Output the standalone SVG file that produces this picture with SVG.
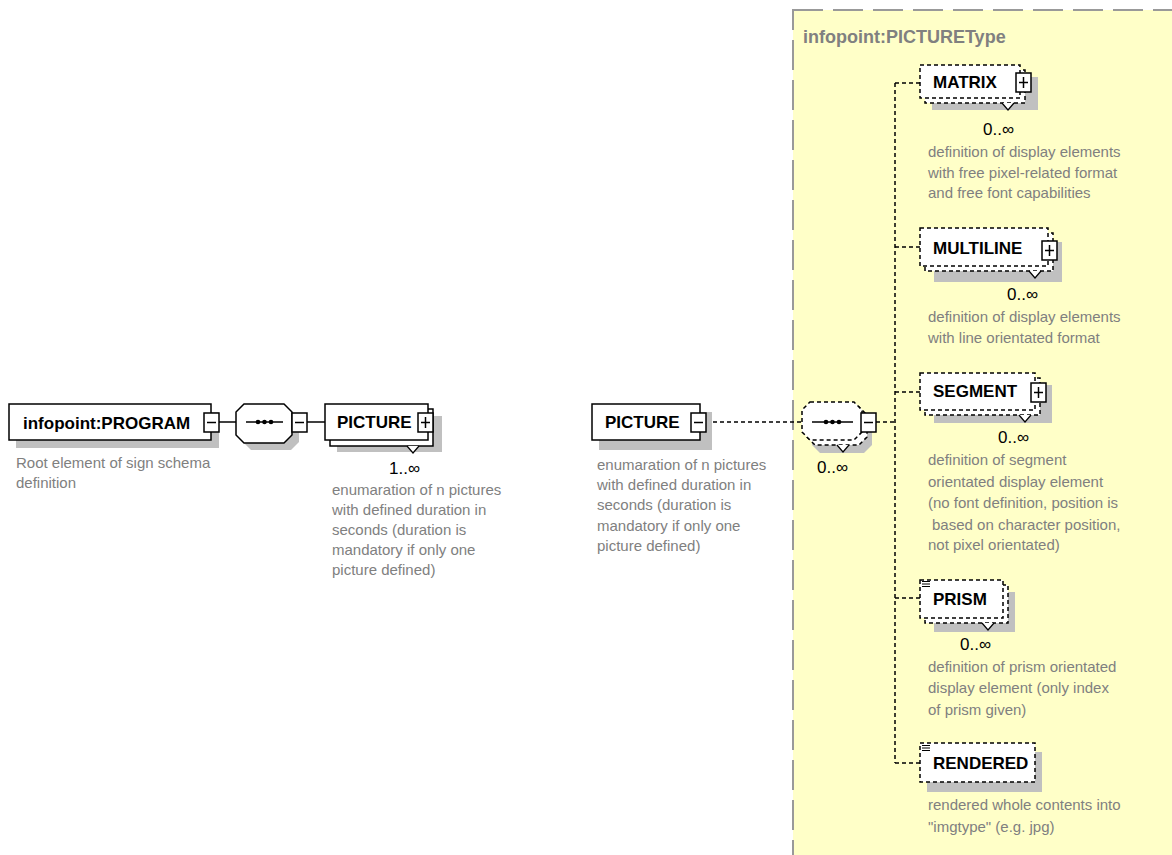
<svg xmlns="http://www.w3.org/2000/svg" width="1172" height="855" viewBox="0 0 1172 855">
<style>
.box{fill:#fff;stroke:#000;stroke-width:1.5}
.dbox{fill:#fff;stroke:#000;stroke-width:1.5;stroke-dasharray:4 3}
.shadow{fill:#c0c0c0}
.lbl{font-family:"Liberation Sans",Arial,sans-serif;font-weight:bold;font-size:17px;fill:#000}
.desc{font-family:"Liberation Sans",Arial,sans-serif;font-size:15px;fill:#808080}
.mult{font-family:"Liberation Sans",Arial,sans-serif;font-size:17px;fill:#000}
.title{font-family:"Liberation Sans",Arial,sans-serif;font-weight:bold;font-size:18px;fill:#808080}
.conn{stroke:#000;stroke-width:1.5;fill:none}
.dconn{stroke:#000;stroke-width:1.5;fill:none;stroke-dasharray:4 3}
.tri{fill:#fff;stroke:#000;stroke-width:1.2}
.ico{stroke:#000;stroke-width:1}
</style>
<defs>
<g id="minus"><rect x="0" y="0" width="15" height="19" class="box"/><line x1="3" y1="9.5" x2="12" y2="9.5" stroke="#000" stroke-width="1.5"/></g>
<g id="plus"><rect x="0" y="0" width="15" height="19" class="box"/><line x1="3" y1="9.5" x2="12" y2="9.5" stroke="#000" stroke-width="1.5"/><line x1="7.5" y1="4" x2="7.5" y2="15" stroke="#000" stroke-width="1.5"/></g>
<path id="tri" d="M-6,0 L0,7 L6,0" class="tri"/>
<g id="lines"><line x1="0" y1="0.5" x2="8" y2="0.5" class="ico"/><line x1="0" y1="3" x2="8" y2="3" class="ico"/><line x1="0" y1="5.5" x2="8" y2="5.5" class="ico"/></g>
</defs>

<rect id="complexType" x="793" y="10" width="400" height="870" fill="#ffffc8" stroke="#999" stroke-width="2" stroke-dasharray="30 10"/>
<text class="title" x="803" y="43">infopoint:PICTUREType</text>

<g id="connectors">
<line class="conn" x1="219" y1="422" x2="237" y2="422"/>
<line class="conn" x1="306" y1="422" x2="325" y2="422"/>
<line class="dconn" x1="706" y1="422" x2="802" y2="422"/>
<line class="dconn" x1="876" y1="422" x2="895" y2="422"/>
<line class="dconn" x1="895" y1="83" x2="895" y2="763"/>
<line class="dconn" x1="895" y1="83" x2="920" y2="83"/>
<line class="dconn" x1="895" y1="247" x2="920" y2="247"/>
<line class="dconn" x1="895" y1="392" x2="920" y2="392"/>
<line class="dconn" x1="895" y1="598" x2="920" y2="598"/>
<line class="dconn" x1="895" y1="763" x2="920" y2="763"/>
</g>

<g id="program">
<rect class="shadow" x="16" y="412" width="203" height="36"/>
<rect class="box" x="9" y="404" width="202" height="36"/>
<text class="lbl" x="23" y="429">infopoint:PROGRAM</text>
<use href="#minus" x="204" y="413"/>
<text class="desc" x="16" y="468">Root element of sign schema</text>
<text class="desc" x="16" y="488">definition</text>
</g>

<g id="sequence1">
<polygon class="shadow" points="251,411 291,411 299,419 299,442 291,450 251,450 243,442 243,419"/>
<polygon class="box" points="244,404 284,404 292,412 292,435 284,443 244,443 236,435 236,412"/>
<line class="conn" x1="246" y1="422" x2="283" y2="422"/>
<circle cx="258" cy="422" r="2.3"/><circle cx="264.5" cy="422" r="2.3"/><circle cx="271" cy="422" r="2.3"/>
<use href="#minus" x="292" y="413"/>
</g>

<g id="picture1">
<rect class="shadow" x="337" y="416" width="105" height="36"/>
<rect class="box" x="330" y="409" width="103" height="37"/>
<rect class="box" x="325" y="404" width="103" height="36"/>
<text class="lbl" x="337" y="428">PICTURE</text>
<use href="#plus" x="418" y="413"/>
<use href="#tri" x="413" y="446"/>
<text class="mult" x="389" y="474">1..∞</text>
<text class="desc" x="332" y="495">enumaration of n pictures</text>
<text class="desc" x="332" y="515">with defined duration in</text>
<text class="desc" x="332" y="535">seconds (duration is</text>
<text class="desc" x="332" y="555">mandatory if only one</text>
<text class="desc" x="332" y="575">picture defined)</text>
</g>

<g id="picture2">
<rect class="shadow" x="599" y="412" width="113" height="38"/>
<rect class="box" x="592" y="404" width="108" height="36"/>
<text class="lbl" x="605" y="428">PICTURE</text>
<use href="#minus" x="691" y="413"/>
<text class="desc" x="597" y="470">enumaration of n pictures</text>
<text class="desc" x="597" y="490">with defined duration in</text>
<text class="desc" x="597" y="510">seconds (duration is</text>
<text class="desc" x="597" y="531">mandatory if only one</text>
<text class="desc" x="597" y="551">picture defined)</text>
</g>

<g id="sequence2">
<polygon class="shadow" points="820,414 864,414 872,422 872,445 864,453 820,453 812,445 812,422"/>
<polygon class="dbox" points="815,407 859,407 867,415 867,437 859,445 815,445 807,437 807,415"/>
<polygon class="dbox" points="810,402 854,402 862,410 862,432 854,440 810,440 802,432 802,410"/>
<line class="conn" x1="812" y1="422" x2="853" y2="422"/>
<circle cx="826" cy="422" r="2.3"/><circle cx="832.5" cy="422" r="2.3"/><circle cx="839" cy="422" r="2.3"/>
<use href="#tri" x="843" y="445"/>
<use href="#minus" x="861" y="413"/>
<text class="mult" x="817" y="473">0..∞</text>
</g>

<g id="matrix">
<rect class="shadow" x="932" y="77" width="106" height="33"/>
<rect class="dbox" x="925" y="70" width="100" height="33"/>
<rect class="dbox" x="920" y="65" width="100" height="33"/>
<text class="lbl" x="933" y="88">MATRIX</text>
<use href="#plus" x="1016" y="73"/>
<use href="#tri" x="1008" y="103"/>
<text class="mult" x="983" y="135">0..∞</text>
<text class="desc" x="928" y="157">definition of display elements</text>
<text class="desc" x="928" y="178">with free pixel-related format</text>
<text class="desc" x="928" y="198">and free font capabilities</text>
</g>

<g id="multiline">
<rect class="shadow" x="934" y="242" width="128" height="40"/>
<rect class="dbox" x="925" y="233" width="128" height="38"/>
<rect class="dbox" x="920" y="228" width="128" height="38"/>
<text class="lbl" x="933" y="254">MULTILINE</text>
<use href="#plus" x="1042" y="241"/>
<use href="#tri" x="1035" y="271"/>
<text class="mult" x="1007" y="300">0..∞</text>
<text class="desc" x="928" y="322">definition of display elements</text>
<text class="desc" x="928" y="343">with line orientated format</text>
</g>

<g id="segment">
<rect class="shadow" x="934" y="385" width="118" height="38"/>
<rect class="dbox" x="925" y="378" width="115" height="37"/>
<rect class="dbox" x="920" y="373" width="115" height="37"/>
<text class="lbl" x="933" y="397">SEGMENT</text>
<use href="#plus" x="1031" y="383"/>
<use href="#tri" x="1025" y="415"/>
<text class="mult" x="998" y="443">0..∞</text>
<text class="desc" x="928" y="465">definition of segment</text>
<text class="desc" x="928" y="487">orientated display element</text>
<text class="desc" x="928" y="508">(no font definition, position is</text>
<text class="desc" x="932" y="530">based on character position,</text>
<text class="desc" x="928" y="550">not pixel orientated)</text>
</g>

<g id="prism">
<rect class="shadow" x="934" y="592" width="81" height="40"/>
<rect class="dbox" x="925" y="585" width="83" height="38"/>
<rect class="dbox" x="920" y="580" width="83" height="38"/>
<use href="#lines" x="922" y="581"/>
<text class="lbl" x="933" y="605">PRISM</text>
<use href="#tri" x="988" y="623"/>
<text class="mult" x="960" y="650">0..∞</text>
<text class="desc" x="928" y="672">definition of prism orientated</text>
<text class="desc" x="928" y="693">display element (only index</text>
<text class="desc" x="928" y="715">of prism given)</text>
</g>

<g id="rendered">
<rect class="shadow" x="927" y="752" width="115" height="40"/>
<rect class="dbox" x="920" y="743" width="115" height="39"/>
<use href="#lines" x="922" y="745"/>
<text class="lbl" x="933" y="769">RENDERED</text>
<text class="desc" x="928" y="810">rendered whole contents into</text>
<text class="desc" x="928" y="832">"imgtype" (e.g. jpg)</text>
</g>
</svg>
